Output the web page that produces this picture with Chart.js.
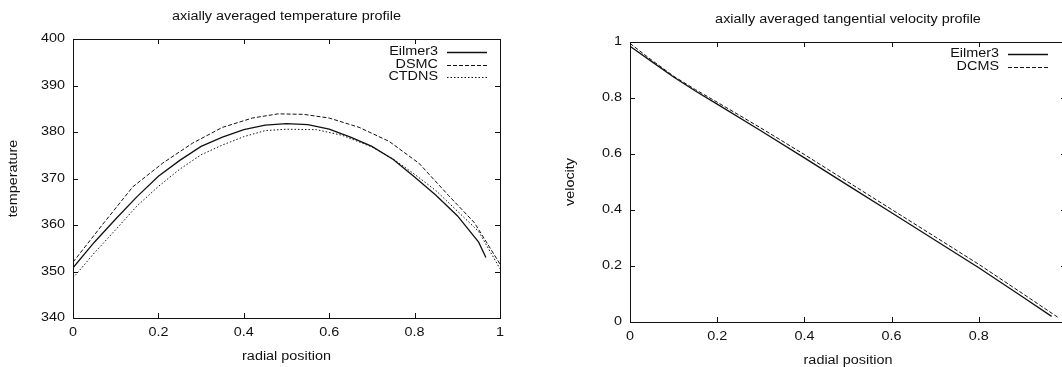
<!DOCTYPE html>
<html>
<head>
<meta charset="utf-8">
<script src="https://cdn.jsdelivr.net/npm/chart.js@4.4.1/dist/chart.umd.min.js"></script>
<style>
  html, body { margin: 0; padding: 0; background: #fff; overflow: hidden; }
  #wrap { position: relative; width: 1062px; height: 367px; overflow: hidden; }
  canvas { position: absolute; top: 0; }
  #temp { left: 0; }
  #vel { left: 530px; }
</style>
</head>
<body>
<div id="wrap">
  <canvas id="temp" width="530" height="367"></canvas>
  <canvas id="vel" width="560" height="367"></canvas>
</div>
<script>
// temperature profile (radial position -> temperature)
const tempEilmerX = [0, 0.05, 0.1, 0.15, 0.2, 0.25, 0.3, 0.35, 0.4, 0.45, 0.5, 0.55, 0.6, 0.65, 0.7, 0.75, 0.8, 0.85, 0.9, 0.95, 0.967];
const tempEilmerY = [350.8, 356.3, 361.3, 366.1, 370.5, 373.9, 376.9, 378.9, 380.5, 381.5, 381.8, 381.6, 380.6, 378.9, 376.9, 374.1, 370.3, 366.4, 362.0, 356.3, 353.0];

const tempDsmcX = [0, 0.07, 0.14, 0.21, 0.28, 0.35, 0.42, 0.48, 0.54, 0.6, 0.67, 0.74, 0.81, 0.88, 0.94, 1.0];
const tempDsmcY = [352.0, 360.2, 368.2, 373.3, 377.6, 381.0, 383.0, 383.9, 383.8, 383.0, 381.0, 378.0, 373.3, 366.3, 360.5, 351.6];

const tempCtdnsX = [0, 0.05, 0.1, 0.15, 0.2, 0.25, 0.3, 0.35, 0.4, 0.45, 0.5, 0.57, 0.63, 0.7, 0.75, 0.8, 0.85, 0.9, 0.95, 1.0];
const tempCtdnsY = [348.6, 354.0, 359.0, 364.1, 368.3, 372.0, 375.1, 377.2, 379.0, 380.3, 380.6, 380.5, 379.3, 376.8, 374.2, 370.9, 367.4, 363.0, 358.6, 350.6];

// tangential velocity profile
const velEilmerX = [0, 0.05, 0.1, 0.15, 0.2, 0.3, 0.4, 0.5, 0.6, 0.7, 0.8, 0.9, 0.967];
const velEilmerY = [0.985, 0.93, 0.875, 0.825, 0.778, 0.683, 0.586, 0.488, 0.39, 0.292, 0.194, 0.09, 0.02];

const velDcmsX = [0, 0.05, 0.1, 0.15, 0.2, 0.3, 0.4, 0.5, 0.6, 0.7, 0.8, 0.9, 0.984];
const velDcmsY = [0.995, 0.935, 0.878, 0.83, 0.785, 0.693, 0.598, 0.5, 0.402, 0.304, 0.206, 0.102, 0.014];

const FONT = '12px "Liberation Sans", Arial, sans-serif';
const INK = '#111';

const pairs = (xs, ys) => xs.map((x, i) => ({ x: x, y: ys[i] }));
const fmt = v => String(+v.toFixed(3));

// gnuplot's postscript text is wider than Arial, so stretch along the baseline
function wideText(ctx, text, x, y, align, angle) {
  ctx.save();
  ctx.translate(x, y);
  if (angle) ctx.rotate(angle);
  ctx.scale(1.2, 1);
  ctx.font = FONT;
  ctx.fillStyle = INK;
  ctx.textAlign = align;
  ctx.textBaseline = 'middle';
  ctx.fillText(text, 0, 0);
  ctx.restore();
}

// border box, inward ticks on all four sides, labels, titles and key
const gnuplotFrame = {
  id: 'gnuplotFrame',
  afterDraw(chart, args, opts) {
    const { ctx, chartArea: a, scales } = chart;
    const sx = scales.x, sy = scales.y;
    ctx.save();
    ctx.strokeStyle = INK;
    ctx.lineWidth = 1;
    ctx.strokeRect(a.left + 0.5, a.top + 0.5, a.right - a.left, a.bottom - a.top);

    const tick = 5;
    ctx.beginPath();
    sx.ticks.forEach(t => {
      const px = Math.round(sx.getPixelForValue(t.value)) + 0.5;
      ctx.moveTo(px, a.bottom); ctx.lineTo(px, a.bottom - tick);
      ctx.moveTo(px, a.top); ctx.lineTo(px, a.top + tick);
    });
    sy.ticks.forEach(t => {
      const py = Math.round(sy.getPixelForValue(t.value)) + 0.5;
      ctx.moveTo(a.left, py); ctx.lineTo(a.left + tick, py);
      ctx.moveTo(a.right, py); ctx.lineTo(a.right - tick, py);
    });
    ctx.stroke();

    sx.ticks.forEach(t => wideText(ctx, fmt(t.value), sx.getPixelForValue(t.value), a.bottom + 15, 'center'));
    sy.ticks.forEach(t => wideText(ctx, fmt(t.value), a.left - 8, sy.getPixelForValue(t.value), 'right'));

    const midX = (a.left + a.right) / 2, midY = (a.top + a.bottom) / 2;
    wideText(ctx, opts.title, midX, a.top - 22, 'center');
    wideText(ctx, opts.xTitle, midX, a.bottom + 38.5, 'center');
    wideText(ctx, opts.yTitle, a.left - 59, midY, 'center', -Math.PI / 2);

    const k = opts.key;
    chart.data.datasets.forEach((ds, i) => {
      const ky = a.top + k.firstRow + i * k.rowStep;
      wideText(ctx, ds.label, a.right - k.textGap, ky, 'right');
      ctx.save();
      ctx.strokeStyle = ds.borderColor;
      ctx.lineWidth = ds.borderWidth;
      ctx.setLineDash(ds.borderDash || []);
      ctx.beginPath();
      ctx.moveTo(a.right - k.lineStart, Math.round(ky) + 0.5);
      ctx.lineTo(a.right - k.lineEnd, Math.round(ky) + 0.5);
      ctx.stroke();
      ctx.restore();
    });
    ctx.restore();
  }
};

function profileChart(canvasId, area, datasets, xRange, yRange, frame) {
  const canvas = document.getElementById(canvasId);
  return new Chart(canvas.getContext('2d'), {
    type: 'scatter',
    data: { datasets: datasets },
    options: {
      responsive: false,
      animation: false,
      events: [],
      layout: { padding: { top: area.top, right: canvas.width - area.right, left: 0, bottom: 0 } },
      plugins: { legend: { display: false }, tooltip: { enabled: false }, title: { display: false }, gnuplotFrame: frame },
      scales: {
        x: {
          type: 'linear', min: xRange[0], max: xRange[1],
          ticks: { display: false, stepSize: xRange[2] },
          grid: { display: false, drawTicks: false },
          border: { display: false },
          afterFit: s => { s.height = canvas.height - area.bottom; }
        },
        y: {
          type: 'linear', min: yRange[0], max: yRange[1],
          ticks: { display: false, stepSize: yRange[2] },
          grid: { display: false, drawTicks: false },
          border: { display: false },
          afterFit: s => { s.width = area.left; }
        }
      }
    },
    plugins: [gnuplotFrame]
  });
}

const lineStyle = (label, xs, ys, dash, width) => ({
  label: label,
  data: pairs(xs, ys),
  showLine: true,
  borderColor: INK,
  borderWidth: width,
  borderDash: dash,
  pointRadius: 0,
  tension: 0
});

profileChart('temp', { left: 73, top: 39, right: 500, bottom: 318 }, [
  lineStyle('Eilmer3', tempEilmerX, tempEilmerY, [], 1.3),
  lineStyle('DSMC', tempDsmcX, tempDsmcY, [4, 2], 1),
  lineStyle('CTDNS', tempCtdnsX, tempCtdnsY, [1.5, 2], 1)
], [0, 1, 0.2], [340, 400, 10], {
  title: 'axially averaged temperature profile',
  xTitle: 'radial position',
  yTitle: 'temperature',
  key: { firstRow: 13, rowStep: 12.5, textGap: 62, lineStart: 53, lineEnd: 13 }
});

profileChart('vel', { left: 100, top: 42, right: 536, bottom: 322 }, [
  lineStyle('Eilmer3', velEilmerX, velEilmerY, [], 1.3),
  lineStyle('DCMS', velDcmsX, velDcmsY, [4, 2], 1)
], [0, 1, 0.2], [0, 1, 0.2], {
  title: 'axially averaged tangential velocity profile',
  xTitle: 'radial position',
  yTitle: 'velocity',
  key: { firstRow: 12, rowStep: 13, textGap: 67, lineStart: 58, lineEnd: 18 }
});
</script>
</body>
</html>
